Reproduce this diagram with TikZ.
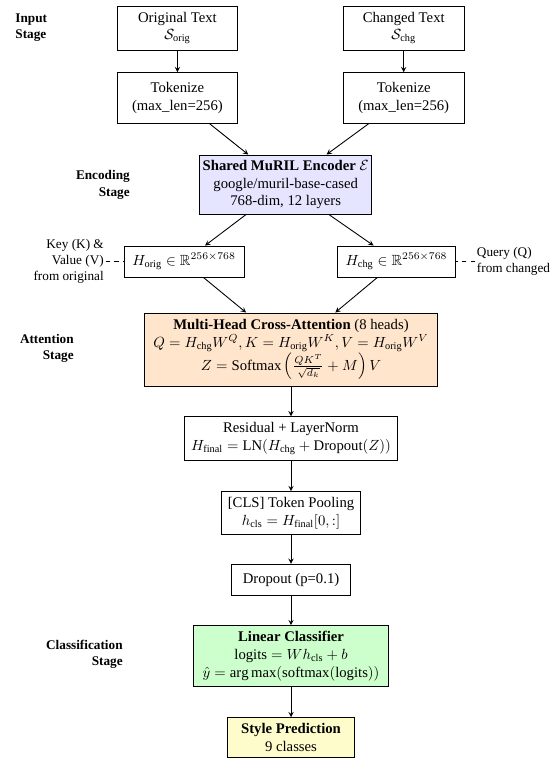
\documentclass[tikz,border=0pt]{standalone}
\usepackage{amsmath, amssymb}
\usepackage{fontspec}
\setmainfont{Liberation Serif}
\usetikzlibrary{arrows, positioning}
\tikzstyle{stage_label} = [font=\small\bfseries, align=right]
\tikzstyle{block} = [rectangle, text centered, align=center, draw=black, semithick, fill=white, inner sep=2pt]
\tikzstyle{encoder} = [block, fill=blue!10]
\tikzstyle{attention} = [block, fill=orange!20]
\tikzstyle{classifier} = [block, fill=green!20]
\tikzstyle{prediction} = [block, fill=yellow!20]
\tikzstyle{side_label} = [font=\small, inner sep=1pt]
\tikzstyle{flow} = [semithick, black, ->, >=stealth]
\tikzstyle{role} = [semithick, black, dashed]

\begin{document}
\begin{tikzpicture}

    \useasboundingbox (-6.955, 0) rectangle (6.405, -18.116);

    % input stage
    \node (orig) [block, minimum width=2.86cm, minimum height=1.05cm] at (-2.715, -0.669) {Original Text\\ $\mathcal{S}_{\text{orig}}$};
    \node (chg) [block, minimum width=2.89cm, minimum height=1.05cm] at (2.694, -0.669) {Changed Text\\ $\mathcal{S}_{\text{chg}}$};
    \node (tok_orig) [block, minimum width=2.86cm, minimum height=1.21cm] at (-2.715, -2.342) {Tokenize\\ (max\_len=256)};
    \node (tok_chg) [block, minimum width=2.89cm, minimum height=1.21cm] at (2.694, -2.342) {Tokenize\\ (max\_len=256)};

    % encoding stage
    \node (encoder) [encoder, minimum width=4.06cm, minimum height=1.41cm] at (-0.127, -4.41) {\textbf{Shared MuRIL Encoder} $\mathcal{E}$\\ google/muril-base-cased\\ 768-dim, 12 layers};
    \node (h_orig) [block, minimum width=2.87cm, minimum height=0.74cm] at (-2.557, -6.25) {$H_{\text{orig}} \in \mathbb{R}^{256\times768}$};
    \node (h_chg) [block, minimum width=2.84cm, minimum height=0.74cm] at (2.521, -6.25) {$H_{\text{chg}} \in \mathbb{R}^{256\times768}$};

    \node (kv_label) [side_label, align=right, left=0.43cm of h_orig] {Key (K) \&\\ Value (V)\\ from original};
    \node (q_label) [side_label, align=left, right=0.45cm of h_chg] {Query (Q)\\ from changed};

    % attention stage
    \node (cross_attn) [attention, minimum width=7.0cm, minimum height=1.745cm] at (0, -8.353) {\textbf{Multi-Head Cross-Attention} (8 heads)\\
        $Q = H_{\text{chg}}W^{Q}, K = H_{\text{orig}}W^{K}, V = H_{\text{orig}}W^{V}$\\
        $Z = \text{Softmax}\left(\frac{QK^{T}}{\sqrt{d_k}} + M\right)V$};
    \node (residual) [block, minimum width=5.11cm, minimum height=1.05cm] at (0, -10.485) {Residual + LayerNorm\\ $H_{\text{final}} = \text{LN}(H_{\text{chg}} + \text{Dropout}(Z))$};
    \node (pooling) [block, minimum width=3.32cm, minimum height=1.02cm] at (0, -12.26) {[CLS] Token Pooling\\ $h_{\text{cls}} = H_{\text{final}}[0,:]$};
    \node (dropout) [block, minimum width=2.84cm, minimum height=0.74cm] at (0, -13.855) {Dropout (p=0.1)};

    % classification stage
    \node (linear) [classifier, minimum width=4.66cm, minimum height=1.46cm] at (0, -15.683) {\textbf{Linear Classifier}\\ $\text{logits} = W h_{\text{cls}} + b$\\ $\hat{y} = \arg\max(\text{softmax}(\text{logits}))$};
    \node (prediction) [prediction, minimum width=3.05cm, minimum height=0.956cm] at (0, -17.63) {\textbf{Style Prediction}\\ 9 classes};

    % stage names
    \node (input_stage) [stage_label, anchor=west, align=left] at (-6.71, -0.67) {Input\\ Stage};
    \node (encoding_stage) [stage_label, anchor=east] at (-3.73, -4.42) {Encoding\\ Stage};
    \node (attention_stage) [stage_label, anchor=east] at (-5.07, -8.32) {Attention\\ Stage};
    \node (classification_stage) [stage_label, anchor=east] at (-3.90, -15.63) {Classification\\ Stage};

    \draw [flow] (orig) -- (tok_orig);
    \draw [flow] (chg) -- (tok_chg);
    \draw [flow] (tok_orig) -- (encoder);
    \draw [flow] (tok_chg) -- (encoder);
    \draw [flow] (encoder) -- (h_orig);
    \draw [flow] (encoder) -- (h_chg);
    \draw [flow] (h_orig) -- (cross_attn);
    \draw [flow] (h_chg) -- (cross_attn);
    \draw [flow] (cross_attn) -- (residual);
    \draw [flow] (residual) -- (pooling);
    \draw [flow] (pooling) -- (dropout);
    \draw [flow] (dropout) -- (linear);
    \draw [flow] (linear) -- (prediction);

    \draw [role] (kv_label) -- (h_orig);
    \draw [role] (q_label) -- (h_chg);

\end{tikzpicture}
\end{document}
